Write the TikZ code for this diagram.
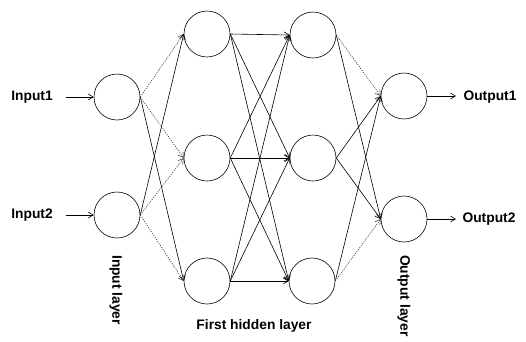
\documentclass[tikz,border=0pt]{standalone}
\usepackage{fontspec}
\setmainfont{Liberation Sans}
\usetikzlibrary{arrows.meta}
\begin{document}
\begin{tikzpicture}[x=1pt,y=-1pt,
  neuron/.style={circle,draw,line width=0.6pt,minimum size=46pt,inner sep=0pt},
  lbl/.style={font=\fontsize{13.8}{16}\selectfont\bfseries,inner sep=0pt},
  conn/.style={line width=0.6pt,-{Straight Barb[length=5pt,width=6pt]}},
  faint/.style={conn,dash pattern=on 1.2pt off 1.2pt,draw=black!75}]
\useasboundingbox (0,0) rectangle (526,341);
\node[neuron] (i1) at (117,97) {};
\node[neuron] (i2) at (117,215) {};
\node[neuron] (ha) at (207,34) {};
\node[neuron] (hb) at (207,158) {};
\node[neuron] (hc) at (207,281) {};
\node[neuron] (ga) at (313,35) {};
\node[neuron] (gb) at (313,158) {};
\node[neuron] (gc) at (312,281) {};
\node[neuron] (o1) at (404,96) {};
\node[neuron] (o2) at (404,219) {};
\node[lbl] (t1) at (32,97) {Input1};
\node[lbl] (t2) at (32,215) {Input2};
\node[lbl] (u1) at (490,97) {Output1};
\node[lbl] (u2) at (489,219) {Output2};
\coordinate (a1) at (66,97);
\coordinate (a2) at (66,215);
\coordinate (b1) at (456,96);
\coordinate (b2) at (456,219);
\node[lbl,rotate=-90,anchor=west] (il) at (116,255) {Input layer};
\node[lbl,rotate=-90,anchor=west] (ol) at (404,255) {Output layer};
\node[lbl] (fl) at (254,326) {First hidden layer};
% inputs
\draw[conn] (a1) -- (i1.west);
\draw[conn] (a2) -- (i2.west);
\draw[conn] (o1.east) -- (b1);
\draw[conn] (o2.east) -- (b2);
% input -> hidden1
\draw[faint] (i1.east) -- (ha.west);
\draw[faint] (i1.east) -- (hb.west);
\draw[conn] (i1.east) -- (hc.west);
\draw[conn] (i2.east) -- (ha.west);
\draw[faint] (i2.east) -- (hb.west);
\draw[faint] (i2.east) -- (hc.west);
% hidden1 -> hidden2
\foreach \s in {ha,hb,hc}
  \foreach \t in {ga,gb,gc}
    \draw[conn] (\s.east) -- (\t.west);
% hidden2 -> output
\draw[faint] (ga.east) -- (o1.west);
\draw[conn] (ga.east) -- (o2.west);
\draw[conn] (gb.east) -- (o1.west);
\draw[conn] (gb.east) -- (o2.west);
\draw[conn] (gc.east) -- (o1.west);
\draw[faint] (gc.east) -- (o2.west);
\end{tikzpicture}
\end{document}
